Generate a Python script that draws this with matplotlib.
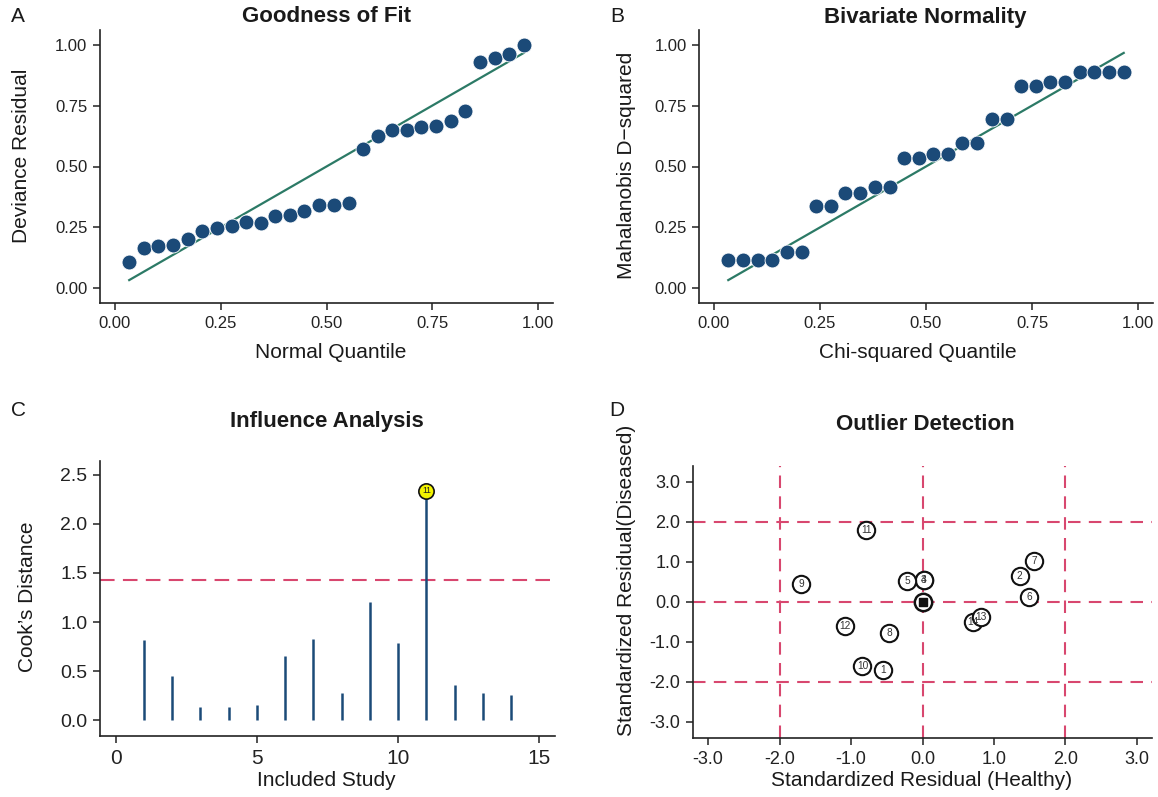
import matplotlib
matplotlib.use("Agg")
import matplotlib.pyplot as plt

plt.rcParams['font.family'] = ['Liberation Sans', 'DejaVu Sans']
plt.rcParams['axes.unicode_minus'] = False

# ---------------- data ----------------
# Panel A: Goodness of fit
quantile_x = [0.034, 0.069, 0.103, 0.138, 0.172, 0.207, 0.241, 0.276, 0.310, 0.345,
              0.379, 0.414, 0.448, 0.483, 0.517, 0.552, 0.586, 0.621, 0.655, 0.690,
              0.724, 0.759, 0.793, 0.828, 0.862, 0.897, 0.931, 0.966]
deviance_resid = [0.109, 0.165, 0.173, 0.176, 0.201, 0.235, 0.246, 0.255, 0.272, 0.269,
                  0.296, 0.302, 0.316, 0.342, 0.342, 0.351, 0.572, 0.624, 0.650, 0.650,
                  0.663, 0.668, 0.686, 0.727, 0.928, 0.947, 0.962, 1.000]
# Panel B: Bivariate normality
mahal_d2 = [0.116, 0.116, 0.116, 0.116, 0.150, 0.150, 0.340, 0.340, 0.390, 0.390,
            0.414, 0.414, 0.533, 0.533, 0.551, 0.551, 0.597, 0.597, 0.693, 0.693,
            0.830, 0.830, 0.846, 0.846, 0.886, 0.886, 0.889, 0.889]
ref_line = [0.034, 0.966]

# Panel C: Influence analysis
studies = [1, 2, 3, 4, 5, 6, 7, 8, 9, 10, 11, 12, 13, 14]
cooks_d = [0.816, 0.446, 0.133, 0.133, 0.153, 0.653, 0.830, 0.276, 1.204, 0.782,
           2.337, 0.357, 0.279, 0.262]
cooks_threshold = 1.43
influential_study = 11

# Panel D: Outlier detection
resid_healthy = [-0.55, 1.36, 0.02, 0.02, -0.21, 1.49, 1.56, -0.47, -1.70, -0.84,
                 -0.79, -1.08, 0.82, 0.70]
resid_diseased = [-1.71, 0.64, 0.54, 0.54, 0.53, 0.13, 1.02, -0.77, 0.44, -1.60,
                  1.80, -0.61, -0.38, -0.50]
outlier_labels = ["1", "2", "3", "4", "5", "6", "7", "8", "9", "10", "11", "12", "13", "14"]
draw_order = [0, 1, 3, 2, 4, 5, 6, 7, 8, 9, 10, 11, 13, 12]
summary_point = (0.0, 0.0)
cut_lines = [-2.0, 0.0, 2.0]

# ---------------- styling ----------------
W, H = 1158, 797
DOT = "#1b4a78"
LINE = "#2c7a66"
RED = "#d8476f"

fig = plt.figure(figsize=(W / 100, H / 100), dpi=100)


def make_ax(l, r, t, b):
    ax = fig.add_axes([l / W, 1 - b / H, (r - l) / W, (b - t) / H])
    for s in ("top", "right"):
        ax.spines[s].set_visible(False)
    for s in ("left", "bottom"):
        ax.spines[s].set_linewidth(1.2)
        ax.spines[s].set_color("#222222")
    ax.tick_params(direction="out", length=5, width=1.1, color="#222222",
                   labelcolor="#222222", pad=4)
    return ax


def ftext(x, y, s, **kw):
    fig.text(x / W, 1 - y / H, s, ha="center", va="center", color="#1a1a1a", **kw)


# Panel A
axA = make_ax(100, 553, 30, 303)
axA.plot(ref_line, ref_line, color=LINE, lw=1.6, zorder=2)
axA.scatter(quantile_x, deviance_resid, s=115, color=DOT, edgecolors="white",
            linewidths=0.6, zorder=3)
axA.set_xlim(-0.035, 1.035)
axA.set_ylim(-0.06, 1.06)
axA.set_xticks([0, 0.25, 0.5, 0.75, 1.0])
axA.set_yticks([0, 0.25, 0.5, 0.75, 1.0])
axA.set_xticklabels(["0.00", "0.25", "0.50", "0.75", "1.00"])
axA.set_yticklabels(["0.00", "0.25", "0.50", "0.75", "1.00"])
axA.tick_params(labelsize=12)

# Panel B
axB = make_ax(699, 1153, 30, 303)
axB.plot(ref_line, ref_line, color=LINE, lw=1.6, zorder=2)
axB.scatter(quantile_x, mahal_d2, s=115, color=DOT, edgecolors="white",
            linewidths=0.6, zorder=3)
axB.set_xlim(-0.035, 1.035)
axB.set_ylim(-0.06, 1.06)
axB.set_xticks([0, 0.25, 0.5, 0.75, 1.0])
axB.set_yticks([0, 0.25, 0.5, 0.75, 1.0])
axB.set_xticklabels(["0.00", "0.25", "0.50", "0.75", "1.00"])
axB.set_yticklabels(["0.00", "0.25", "0.50", "0.75", "1.00"])
axB.tick_params(labelsize=12)

# Panel C
axC = make_ax(100, 555, 461, 736)
axC.vlines(studies, 0, cooks_d, color=DOT, lw=1.8, zorder=2)
axC.axhline(cooks_threshold, color=RED, lw=1.5, linestyle=(0, (7, 4)), zorder=1)
idx = studies.index(influential_study)
axC.plot([studies[idx]], [cooks_d[idx]], marker="o", markersize=11,
         markerfacecolor="#f4f400", markeredgecolor="#111111", markeredgewidth=1.2,
         zorder=4)
axC.text(studies[idx], cooks_d[idx], str(influential_study), fontsize=6.2,
         ha="center", va="center", color="#222222", zorder=5)
axC.set_xlim(-0.55, 15.55)
axC.set_ylim(-0.16, 2.64)
axC.set_xticks([0, 5, 10, 15])
axC.set_yticks([0, 0.5, 1.0, 1.5, 2.0, 2.5])
axC.set_yticklabels(["0.0", "0.5", "1.0", "1.5", "2.0", "2.5"])
axC.tick_params(axis="x", labelsize=15)
axC.tick_params(axis="y", labelsize=14)

# Panel D
axD = make_ax(693, 1152, 466, 738)
for c in cut_lines:
    axD.axvline(c, color=RED, lw=1.5, linestyle=(0, (6, 4)), zorder=1)
    axD.axhline(c, color=RED, lw=1.5, linestyle=(0, (6, 4)), zorder=1)
for i in draw_order:
    axD.plot([resid_healthy[i]], [resid_diseased[i]], marker="o", markersize=12.5,
             markerfacecolor="white", markeredgecolor="#111111", markeredgewidth=1.5,
             zorder=3)
    axD.text(resid_healthy[i], resid_diseased[i], outlier_labels[i], fontsize=7.3,
             ha="center", va="center", color="#333333", zorder=4)
axD.plot([summary_point[0]], [summary_point[1]], marker="o", markersize=12.5,
         markerfacecolor="white", markeredgecolor="#111111", markeredgewidth=1.8, zorder=3)
axD.plot([summary_point[0]], [summary_point[1]], marker="s", markersize=5.5,
         color="#111111", zorder=4)
axD.set_xlim(-3.21, 3.21)
axD.set_ylim(-3.4, 3.4)
ticksD = [-3, -2, -1, 0, 1, 2, 3]
axD.set_xticks(ticksD)
axD.set_yticks(ticksD)
axD.set_xticklabels([f"{v:.1f}" for v in ticksD])
axD.set_yticklabels([f"{v:.1f}" for v in ticksD])
axD.tick_params(labelsize=13)

# Titles, axis labels, panel letters
tkw = dict(fontsize=16, fontweight="bold")
ftext(326, 17, "Goodness of Fit", **tkw)
ftext(925, 17, "Bivariate Normality", **tkw)
ftext(327, 421, "Influence Analysis", **tkw)
ftext(925, 425, "Outlier Detection", **tkw)

lkw = dict(fontsize=15)
ftext(331, 352, "Normal Quantile", **lkw)
ftext(918, 352, "Chi-squared Quantile", **lkw)
ftext(326, 780, "Included Study", **lkw)
ftext(922, 781, "Standardized Residual (Healthy)", **lkw)
ftext(22, 156, "Deviance Residual", rotation=90, **lkw)
ftext(627, 165, "Mahalanobis D\u2212squared", rotation=90, **lkw)
ftext(28, 597, "Cook\u2019s Distance", rotation=90, **lkw)
ftext(627, 580, "Standardized Residual(Diseased)", rotation=90, **lkw)

pkw = dict(fontsize=15)
ftext(18, 17, "A", **pkw)
ftext(617, 17, "B", **pkw)
ftext(18, 410, "C", **pkw)
ftext(617, 410, "D", **pkw)

fig.savefig("out.png", dpi=100)
